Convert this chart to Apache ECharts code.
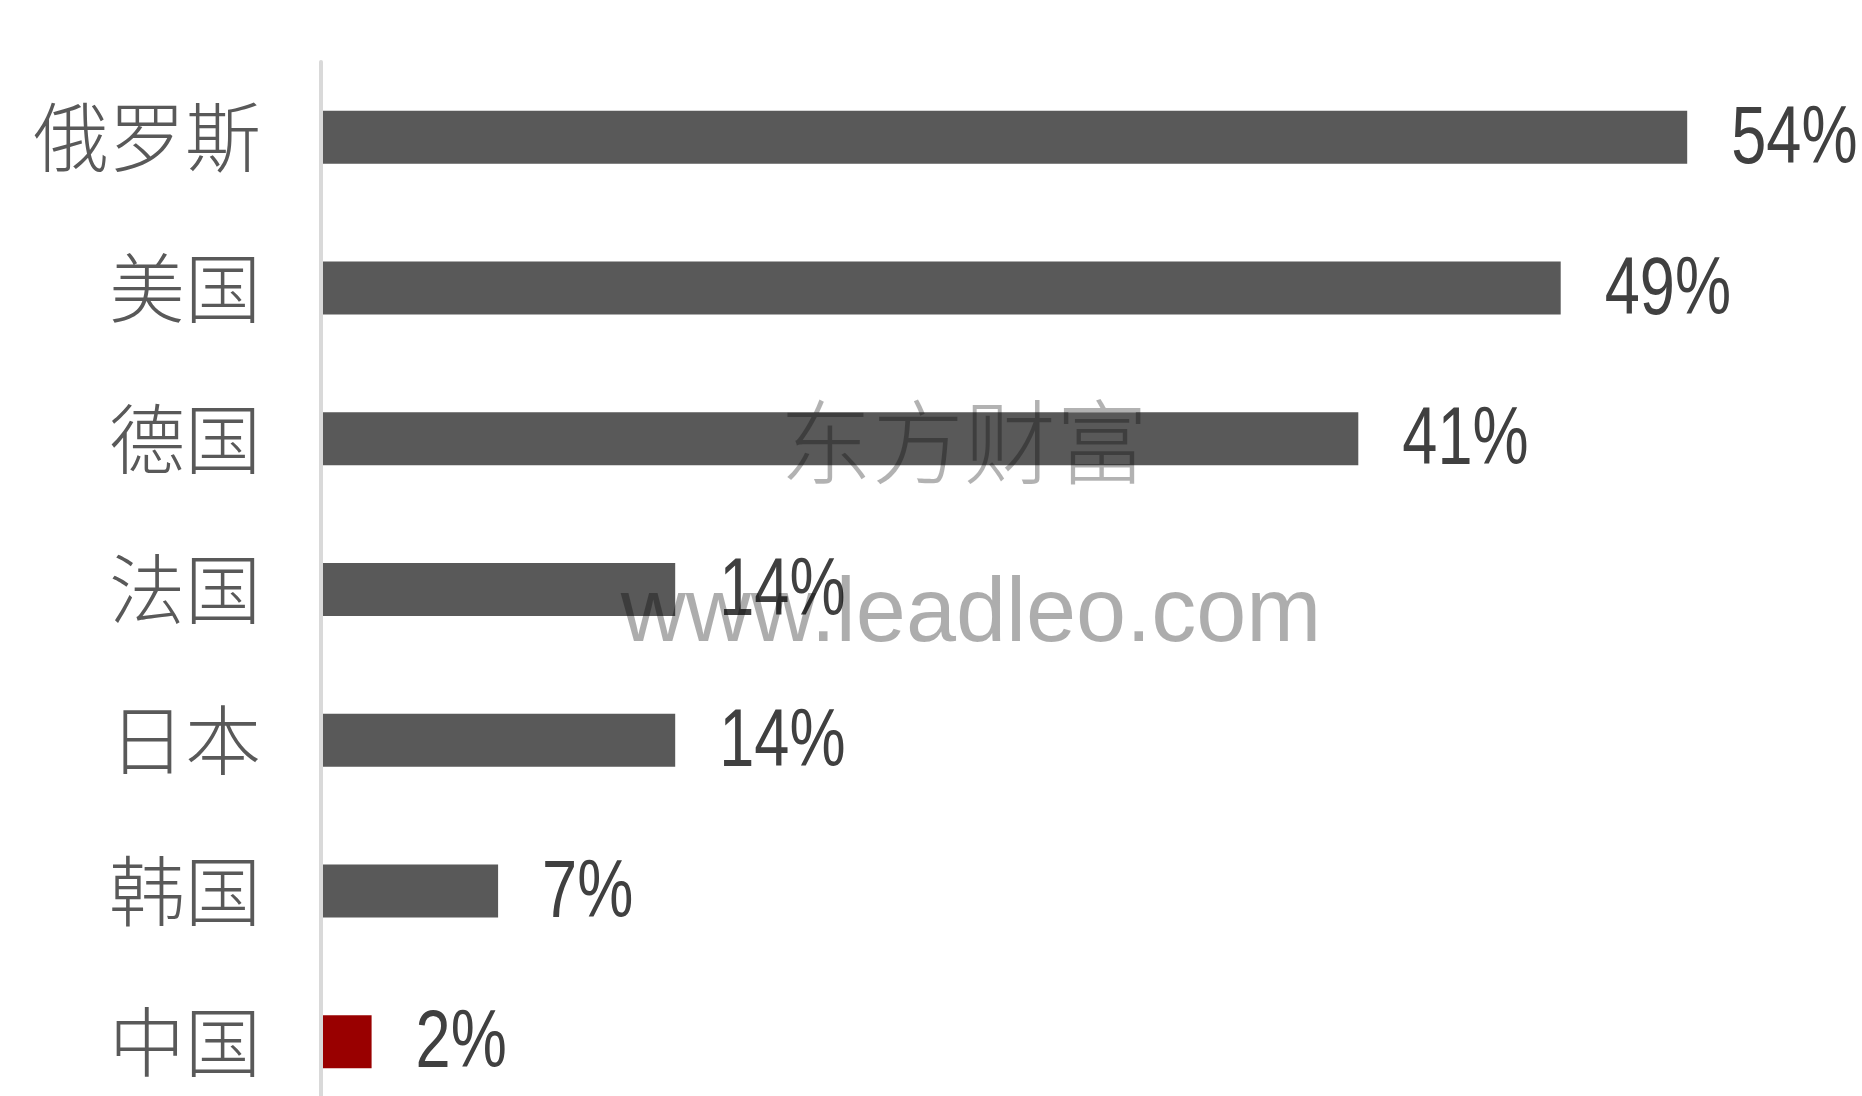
<!DOCTYPE html>
<html><head><meta charset="utf-8">
<script src="https://cdn.jsdelivr.net/npm/echarts@6/dist/echarts.min.js"></script>
<style>html,body{margin:0;padding:0;background:#fff}#c{width:1862px;height:1096px}</style>
</head><body><div id="c"></div>
<script>
const categories = ['俄罗斯', '美国', '德国', '法国', '日本', '韩国', '中国'];
const values = [54, 49, 41, 14, 14, 7, 2];
const highlightCategory = '中国';

const chart = echarts.init(document.getElementById('c'));
chart.setOption({
  backgroundColor: '#ffffff',
  animation: false,
  grid: { left: 321, top: 62, width: 1518, height: 1055, containLabel: false, outerBoundsMode: 'none' },
  xAxis: { type: 'value', min: 0, max: 60, show: false },
  yAxis: {
    type: 'category', data: categories, inverse: true, z: 3,
    axisLine: { show: true, lineStyle: { color: '#d9d9d9', width: 4 } },
    axisTick: { show: false },
    axisLabel: { margin: 60, fontSize: 76, fontWeight: 300, color: '#595959', fontFamily: '"Noto Sans CJK SC", sans-serif' }
  },
  series: [{
    type: 'bar', barWidth: 53,
    data: values.map((v, i) => ({ value: v, itemStyle: { color: categories[i] === highlightCategory ? '#990000' : '#595959' } }))
  }, {
    type: 'custom', z: 5,
    data: values.map((v, i) => [v, i]),
    encode: { x: 0, y: 1 },
    renderItem: function (params, api) {
      const pt = api.coord([api.value(0), api.value(1)]);
      return {
        type: 'text', x: pt[0] + 44, y: pt[1] + 3, scaleX: 0.77, scaleY: 1,
        style: {
          text: api.value(0) + '%', fill: '#404040',
          font: '82px "Liberation Sans", Arial, sans-serif',
          textAlign: 'left', textVerticalAlign: 'middle'
        }
      };
    }
  }],
  graphic: [
    { type: 'text', z: 100, x: 964, y: 442,
      style: { text: '东方财富', font: '300 92px "Noto Sans CJK SC"', fill: 'rgba(0,0,0,0.3)', textAlign: 'center', textVerticalAlign: 'middle' } },
    { type: 'text', z: 100, x: 971, y: 616,
      style: { text: 'www.leadleo.com', font: '90px "Liberation Sans", Arial, sans-serif', fill: 'rgba(0,0,0,0.32)', textAlign: 'center', textVerticalAlign: 'middle' } }
  ]
});
</script></body></html>
